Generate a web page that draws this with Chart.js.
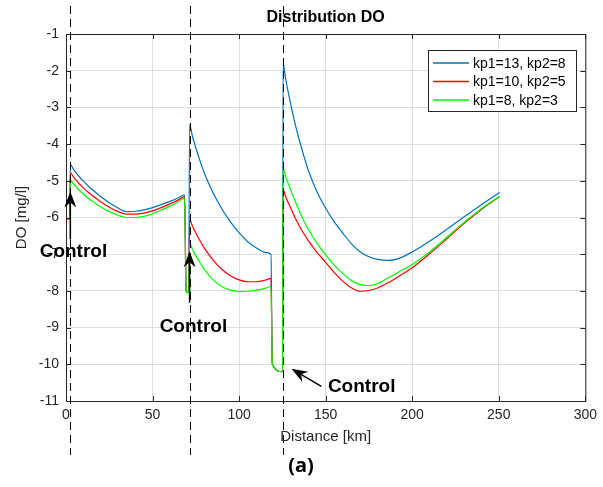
<!DOCTYPE html>
<html>
<head>
<meta charset="utf-8">
<script src="https://cdn.jsdelivr.net/npm/chart.js@4.4.0/dist/chart.umd.min.js"></script>
<style>
body { margin: 0; background: #fff; }
</style>
</head>
<body>
<canvas id="lineChart" width="603" height="487"></canvas>
<script>
// distance along the river [km]
const km = [
    0, 2.3,
    2.5, 4, 6, 8, 10, 13, 16, 20, 25, 30, 35, 40, 45, 50, 55, 60, 65, 68.5,
    69.4, 70.9,
    71.4, 73, 75, 77.5, 80, 85, 90, 95, 100, 105, 110, 115, 118.4,
    119.2, 125.1,
    125.4, 127, 129, 131, 133, 135, 137.5, 140, 145, 150, 155, 160, 165, 170, 175, 180, 186, 192, 200, 210, 220, 230, 240, 250.5
];
// DO for kp1=13, kp2=8
const doBlue = [
    -6.05, -6.05,
    -4.56, -4.66, -4.79, -4.91, -5.01, -5.15, -5.27, -5.43, -5.6, -5.74, -5.84, -5.83, -5.79, -5.73, -5.65, -5.56, -5.46, -5.38,
    -8.0, -8.05,
    -3.47, -3.78, -4.1, -4.47, -4.8, -5.33, -5.76, -6.12, -6.42, -6.66, -6.83, -6.95, -7.0,
    -10.0, -10.2,
    -1.8, -2.25, -2.73, -3.17, -3.57, -3.93, -4.34, -4.72, -5.3, -5.75, -6.12, -6.43, -6.72, -6.94, -7.07, -7.14, -7.17, -7.12, -6.94, -6.65, -6.32, -5.98, -5.65, -5.32
];
// DO for kp1=10, kp2=5
const doRed = [
    -6.05, -6.05,
    -4.78, -4.87, -4.99, -5.1, -5.19, -5.32, -5.43, -5.57, -5.72, -5.84, -5.91, -5.91, -5.88, -5.82, -5.73, -5.63, -5.52, -5.43,
    -8.0, -8.05,
    -6.05, -6.23, -6.42, -6.64, -6.84, -7.16, -7.41, -7.59, -7.7, -7.75, -7.75, -7.71, -7.66,
    -10.0, -10.2,
    -5.25, -5.45, -5.66, -5.87, -6.07, -6.25, -6.45, -6.63, -6.95, -7.22, -7.5, -7.74, -7.92, -8.01, -7.99, -7.92, -7.78, -7.61, -7.37, -6.99, -6.58, -6.16, -5.78, -5.43
];
// DO for kp1=8, kp2=3
const doGreen = [
    -6.05, -6.05,
    -4.98, -5.06, -5.17, -5.27, -5.36, -5.48, -5.58, -5.71, -5.84, -5.94, -6.0, -6.0, -5.97, -5.9, -5.8, -5.69, -5.57, -5.47,
    -8.0, -8.05,
    -6.69, -6.87, -7.04, -7.24, -7.42, -7.7, -7.88, -7.98, -8.02, -8.01, -7.98, -7.93, -7.88,
    -10.0, -10.2,
    -4.65, -4.9, -5.15, -5.4, -5.62, -5.85, -6.1, -6.32, -6.7, -7.02, -7.3, -7.53, -7.72, -7.83, -7.86, -7.8, -7.65, -7.49, -7.28, -6.94, -6.54, -6.13, -5.76, -5.42
];
const seriesNames = ["kp1=13, kp2=8", "kp1=10, kp2=5", "kp1=8, kp2=3"];
const xTicks = [0, 50, 100, 150, 200, 250, 300];
const yTicks = [-11, -10, -9, -8, -7, -6, -5, -4, -3, -2, -1];

// control points: dashed line position, arrow tail/tip and label position (km, DO)
const controlKm = [2.4, 71.4, 125.4];
const arrowTail = [[2.5, -6.6], [71.4, -8.32], [147.5, -10.6]];
const arrowTip = [[2.5, -5.29], [71.4, -6.92], [130.3, -10.12]];
const labelPos = [[4.3, -6.93], [73.6, -8.97], [170.8, -10.6]];

const colors = ["#0072bd", "#ff0000", "#00ff00"];

function points(vals) {
    return km.map(function (x, i) { return { x: x, y: vals[i] }; });
}

function arrow(ctx, x1, y1, x2, y2) {
    const ang = Math.atan2(y2 - y1, x2 - x1);
    const len = 16, half = 6, notch = 5;
    const bx = x2 - len * Math.cos(ang), by = y2 - len * Math.sin(ang);
    const nx = x2 - (len - notch) * Math.cos(ang), ny = y2 - (len - notch) * Math.sin(ang);
    ctx.beginPath();
    ctx.moveTo(x1, y1);
    ctx.lineTo(nx, ny);
    ctx.stroke();
    ctx.beginPath();
    ctx.moveTo(x2, y2);
    ctx.lineTo(bx - half * Math.sin(ang), by + half * Math.cos(ang));
    ctx.lineTo(nx, ny);
    ctx.lineTo(bx + half * Math.sin(ang), by - half * Math.cos(ang));
    ctx.closePath();
    ctx.fill();
}

const overlay = {
    id: 'overlay',
    afterDatasetsDraw(chart) {
        const ctx = chart.ctx;
        const xs = chart.scales.x, ys = chart.scales.y;
        const a = chart.chartArea;
        ctx.save();
        // axes box and inner ticks
        ctx.strokeStyle = "#262626";
        ctx.lineWidth = 1;
        ctx.strokeRect(a.left + 0.5, a.top + 0.5, a.right - a.left, a.bottom - a.top);
        ctx.beginPath();
        yTicks.forEach(function (v) {
            const py = Math.round(ys.getPixelForValue(v)) + 0.5;
            ctx.moveTo(a.left, py); ctx.lineTo(a.left + 5, py);
            ctx.moveTo(a.right, py); ctx.lineTo(a.right - 5, py);
        });
        xTicks.forEach(function (v) {
            const px = Math.round(xs.getPixelForValue(v)) + 0.5;
            ctx.moveTo(px, a.bottom); ctx.lineTo(px, a.bottom - 5);
            ctx.moveTo(px, a.top); ctx.lineTo(px, a.top + 5);
        });
        ctx.stroke();

        // dashed control lines
        ctx.strokeStyle = "#000";
        ctx.setLineDash([8, 5]);
        controlKm.forEach(function (v) {
            const px = Math.round(xs.getPixelForValue(v)) + 0.5;
            ctx.beginPath();
            ctx.moveTo(px, 6);
            ctx.lineTo(px, 455);
            ctx.stroke();
        });
        ctx.setLineDash([]);

        // arrows and labels
        ctx.fillStyle = "#000";
        ctx.lineWidth = 1.5;
        for (let i = 0; i < arrowTail.length; i++) {
            arrow(ctx,
                xs.getPixelForValue(arrowTail[i][0]), ys.getPixelForValue(arrowTail[i][1]),
                xs.getPixelForValue(arrowTip[i][0]), ys.getPixelForValue(arrowTip[i][1]));
        }
        ctx.font = 'bold 19px "Liberation Sans"';
        ctx.textAlign = "center";
        ctx.textBaseline = "middle";
        for (let i = 0; i < labelPos.length; i++) {
            ctx.fillText("Control", xs.getPixelForValue(labelPos[i][0]), ys.getPixelForValue(labelPos[i][1]));
        }

        // legend
        ctx.fillStyle = "#fff";
        ctx.fillRect(428.5, 50.5, 148, 61);
        ctx.strokeStyle = "#262626";
        ctx.lineWidth = 1;
        ctx.strokeRect(428.5, 50.5, 148, 61);
        ctx.font = '14px "Liberation Sans"';
        ctx.textAlign = "left";
        for (let i = 0; i < seriesNames.length; i++) {
            const ly = 63 + i * 18.5;
            ctx.strokeStyle = colors[i];
            ctx.lineWidth = 1.3;
            ctx.beginPath();
            ctx.moveTo(433, ly);
            ctx.lineTo(469, ly);
            ctx.stroke();
            ctx.fillStyle = "#000";
            ctx.fillText(seriesNames[i], 473, ly + 1);
        }

        // title and axis labels
        const cx = (a.left + a.right) / 2;
        ctx.fillStyle = "#000";
        ctx.textAlign = "center";
        ctx.font = 'bold 16px "Liberation Sans"';
        ctx.fillText("Distribution DO", cx, 18);
        ctx.fillStyle = "#262626";
        ctx.font = '15px "Liberation Sans"';
        ctx.fillText("Distance [km]", cx, 437);
        ctx.save();
        ctx.translate(22, (a.top + a.bottom) / 2);
        ctx.rotate(-Math.PI / 2);
        ctx.fillText("DO [mg/l]", 0, 0);
        ctx.restore();
        ctx.fillStyle = "#000";
        ctx.font = 'bold 20px "Noto Sans"';
        ctx.fillText("(a)", 301, 466);
        ctx.restore();
    }
};

new Chart(document.getElementById("lineChart"), {
    type: 'line',
    data: {
        datasets: [
            { label: seriesNames[0], data: points(doBlue), borderColor: colors[0], order: 2 },
            { label: seriesNames[1], data: points(doRed), borderColor: colors[1], order: 1 },
            { label: seriesNames[2], data: points(doGreen), borderColor: colors[2], order: 0 }
        ]
    },
    options: {
        responsive: false,
        animation: false,
        layout: { padding: { left: 0, top: 34, right: 11, bottom: 0 } },
        elements: {
            point: { radius: 0 },
            line: { borderWidth: 1.2, cubicInterpolationMode: 'monotone', fill: false }
        },
        plugins: {
            legend: { display: false },
            title: { display: false },
            tooltip: { enabled: false }
        },
        scales: {
            x: {
                type: 'linear',
                min: 0, max: 300,
                afterFit: function (s) { s.height = 86; },
                afterBuildTicks: function (s) { s.ticks = xTicks.map(function (v) { return { value: v }; }); },
                grid: { color: '#dfdfdf', drawTicks: false },
                border: { display: false },
                ticks: { padding: 6, color: '#262626', font: { family: 'Liberation Sans', size: 14 }, maxRotation: 0 }
            },
            y: {
                min: -11, max: -1,
                afterFit: function (s) { s.width = 66; },
                afterBuildTicks: function (s) { s.ticks = yTicks.map(function (v) { return { value: v }; }); },
                grid: { color: '#dfdfdf', drawTicks: false },
                border: { display: false },
                ticks: { padding: 7, color: '#262626', font: { family: 'Liberation Sans', size: 14 } }
            }
        }
    },
    plugins: [overlay]
});
</script>
</body>
</html>
